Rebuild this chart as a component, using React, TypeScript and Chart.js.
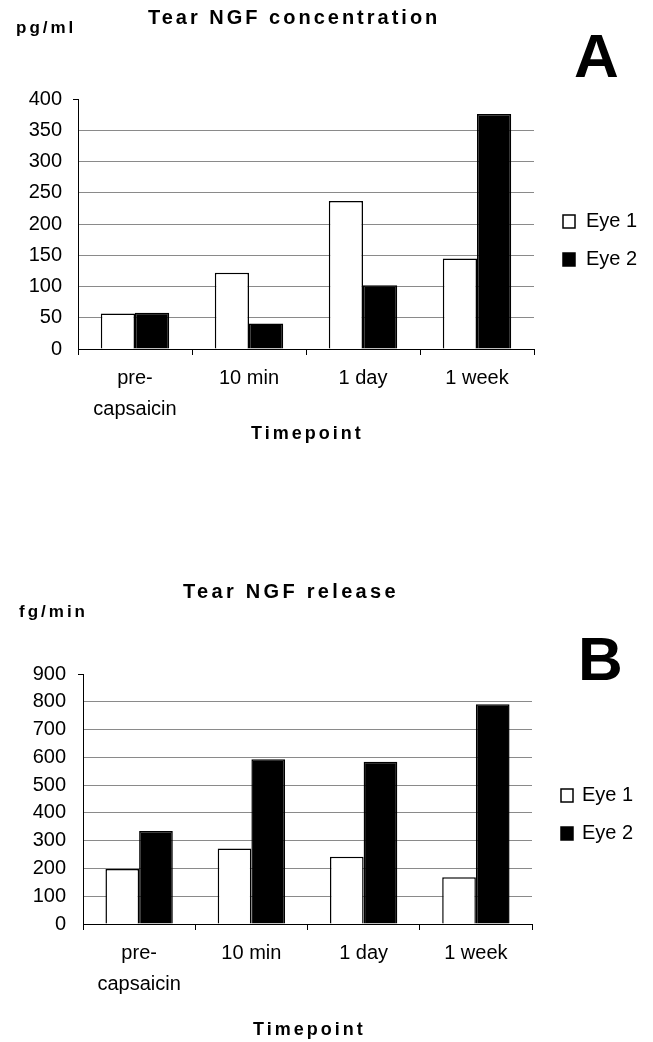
import React, { useEffect, useRef } from 'react';
import { Chart, registerables } from 'chart.js';

Chart.register(...registerables);

// ---- data ----
const timepoints: (string | string[])[] = [['pre-', 'capsaicin'], '10 min', '1 day', '1 week'];
const seriesLabels = ['Eye 1', 'Eye 2'];

const concentrationEye1 = [57, 122, 237, 145];
const concentrationEye2 = [58, 41, 102, 376];
const concentrationMax = 400;
const concentrationStep = 50;

const releaseEye1 = [198, 272, 242, 168];
const releaseEye2 = [335, 593, 584, 791];
const releaseMax = 900;
const releaseStep = 100;

const FAMILY = '"Liberation Sans", Arial, Helvetica, sans-serif';
const W = 653;
const H = 521;
const X_AXIS_H = 100;

const decorPlugin = {
  id: 'decor',
  afterDraw(chart: any, _args: any, o: any) {
    const ctx = chart.ctx as CanvasRenderingContext2D;
    ctx.save();
    ctx.fillStyle = '#000';
    ctx.textBaseline = 'middle';
    ctx.textAlign = 'left';
    // title
    ctx.font = `bold 20px ${FAMILY}`;
    (ctx as any).letterSpacing = o.titleSpacing;
    ctx.fillText(o.title, o.titleX, o.titleY);
    // unit
    ctx.font = `bold 17px ${FAMILY}`;
    (ctx as any).letterSpacing = '3px';
    ctx.fillText(o.unit, o.unitX, o.unitY);
    // axis title
    ctx.font = `bold 18px ${FAMILY}`;
    (ctx as any).letterSpacing = '3px';
    ctx.fillText(o.axisTitle, o.axisTitleX, o.axisTitleY);
    // panel letter
    (ctx as any).letterSpacing = '0px';
    ctx.font = `bold 62px ${FAMILY}`;
    ctx.textBaseline = 'alphabetic';
    ctx.fillText(o.letter, o.letterX, o.letterY);
    // legend
    ctx.textBaseline = 'middle';
    ctx.font = `20px ${FAMILY}`;
    chart.data.datasets.forEach((ds: any, i: number) => {
      const cy = o.legendY + i * o.legendGap;
      ctx.fillStyle = ds.backgroundColor;
      ctx.fillRect(o.legendX, cy - 6, 12, 13);
      ctx.strokeStyle = '#000';
      ctx.lineWidth = 1.5;
      ctx.strokeRect(o.legendX, cy - 6, 12, 13);
      ctx.fillStyle = '#000';
      ctx.fillText(ds.label, o.legendTextX, cy);
    });
    ctx.restore();
  },
};

type PanelProps = {
  eye1: number[];
  eye2: number[];
  yMax: number;
  yStep: number;
  decor: any;
  pad: { left: number; top: number; right: number; bottom: number };
  yPadding: number;
};

function Panel(p: PanelProps) {
  const ref = useRef<HTMLCanvasElement>(null);
  useEffect(() => {
    const chart = new Chart(ref.current as HTMLCanvasElement, {
      type: 'bar',
      data: {
        labels: timepoints as any,
        datasets: [
          { label: seriesLabels[0], data: p.eye1, backgroundColor: '#ffffff', borderColor: '#000000', borderWidth: 1.5, borderSkipped: 'start' },
          { label: seriesLabels[1], data: p.eye2, backgroundColor: '#000000', borderColor: '#000000', borderWidth: 1.5, borderSkipped: 'start' },
        ],
      },
      plugins: [decorPlugin as any],
      options: {
        animation: false,
        responsive: false,
        maintainAspectRatio: false,
        devicePixelRatio: 1,
        events: [],
        layout: { padding: p.pad },
        datasets: { bar: { categoryPercentage: 0.6, barPercentage: 1.0 } },
        plugins: {
          legend: { display: false },
          tooltip: { enabled: false },
          title: { display: false },
          decor: p.decor,
        } as any,
        scales: {
          x: {
            offset: true,
            grid: {
              offset: true,
              drawOnChartArea: false,
              drawTicks: true,
              tickLength: 6,
              tickColor: '#000',
              tickWidth: 1,
            },
            border: { display: true, color: '#000', width: 1 },
            ticks: {
              color: '#000',
              font: { family: FAMILY, size: 20, lineHeight: 1.55 },
              padding: 8,
              maxRotation: 0,
              minRotation: 0,
              autoSkip: false,
            },
            afterFit: (scale: any) => {
              scale.height = X_AXIS_H;
            },
          },
          y: {
            min: 0,
            max: p.yMax,
            grid: {
              color: (c: any) => (c.tick && c.tick.value === p.yMax ? 'rgba(0,0,0,0)' : '#8a8a8a'),
              lineWidth: 1,
              drawTicks: true,
              tickLength: 5,
              tickColor: (c: any) => (c.tick && c.tick.value === p.yMax ? '#000' : 'rgba(0,0,0,0)'),
            },
            border: { display: true, color: '#000', width: 1 },
            ticks: {
              stepSize: p.yStep,
              color: '#000',
              font: { family: FAMILY, size: 20 },
              padding: p.yPadding,
            },
            afterFit: (scale: any) => {
              scale.width = 70;
            },
          },
        },
      } as any,
    });
    return () => chart.destroy();
  }, []);
  return <canvas ref={ref} width={W} height={H} style={{ display: 'block', width: W, height: H }} />;
}

export default function App() {
  return (
    <div style={{ position: 'absolute', left: 0, top: 0, width: W, height: 2 * H, background: '#fff' }}>
      <Panel
        eye1={concentrationEye1}
        eye2={concentrationEye2}
        yMax={concentrationMax}
        yStep={concentrationStep}
        pad={{ left: 8, top: 99, right: 119, bottom: H - 349 - X_AXIS_H }}
        yPadding={11}
        decor={{
          title: 'Tear NGF concentration',
          titleSpacing: '3px',
          titleX: 148,
          titleY: 18,
          unit: 'pg/ml',
          unitX: 16,
          unitY: 28,
          axisTitle: 'Timepoint',
          axisTitleX: 251,
          axisTitleY: 434,
          letter: 'A',
          letterX: 574,
          letterY: 77,
          legendX: 563,
          legendTextX: 586,
          legendY: 221,
          legendGap: 38,
        }}
      />
      <Panel
        eye1={releaseEye1}
        eye2={releaseEye2}
        yMax={releaseMax}
        yStep={releaseStep}
        pad={{ left: 13, top: 153, right: 121, bottom: H - 403 - X_AXIS_H }}
        yPadding={12}
        decor={{
          title: 'Tear NGF release',
          titleSpacing: '3.3px',
          titleX: 183,
          titleY: 71,
          unit: 'fg/min',
          unitX: 19,
          unitY: 91,
          axisTitle: 'Timepoint',
          axisTitleX: 253,
          axisTitleY: 509,
          letter: 'B',
          letterX: 578,
          letterY: 159,
          legendX: 561,
          legendTextX: 582,
          legendY: 274,
          legendGap: 38,
        }}
      />
    </div>
  );
}
